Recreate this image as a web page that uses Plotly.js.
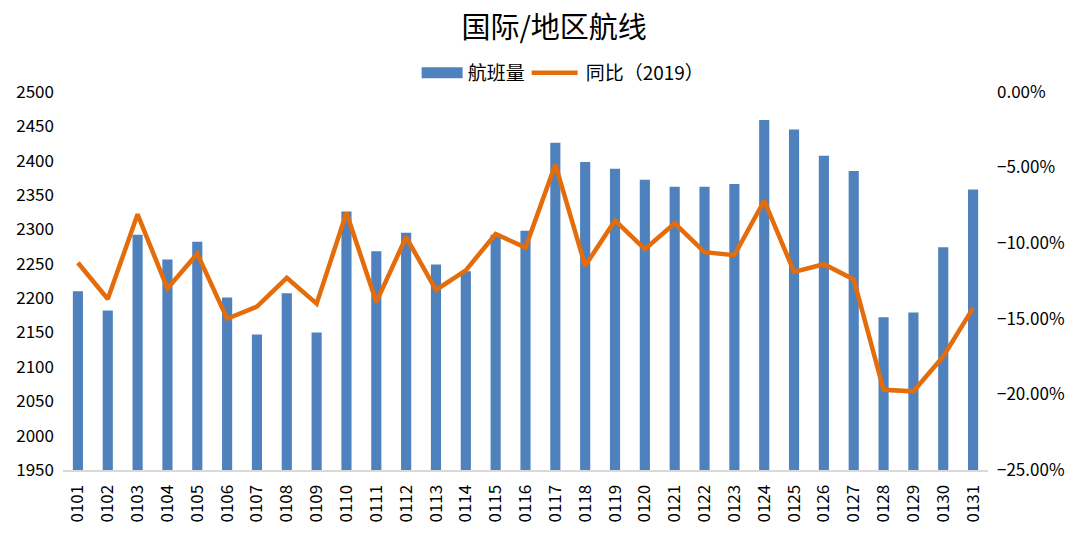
<!DOCTYPE html>
<html>
<head>
<meta charset="utf-8">
<script src="https://cdn.plot.ly/plotly-3.0.1.min.js"></script>
<style>html,body{margin:0;padding:0;background:#fff;}#chart{width:1074px;height:560px;}</style>
</head>
<body>
<div id="chart"></div>
<script>
const categories = ["0101","0102","0103","0104","0105","0106","0107","0108","0109","0110",
  "0111","0112","0113","0114","0115","0116","0117","0118","0119","0120",
  "0121","0122","0123","0124","0125","0126","0127","0128","0129","0130","0131"];
const flights = [2210,2182,2292,2256,2282,2201,2147,2207,2150,2326,
  2268,2295,2249,2239,2292,2298,2426,2398,2388,2372,
  2362,2362,2366,2459,2445,2407,2385,2172,2179,2274,2358];
const yoy2019 = [-0.113,-0.137,-0.081,-0.130,-0.107,-0.150,-0.142,-0.123,-0.140,-0.080,
  -0.139,-0.096,-0.131,-0.118,-0.094,-0.103,-0.048,-0.115,-0.085,-0.104,
  -0.087,-0.106,-0.108,-0.072,-0.119,-0.114,-0.124,-0.197,-0.198,-0.175,-0.143];

const FONT = "'Microsoft YaHei', 'Noto Sans CJK SC', 'Noto Sans', sans-serif";

const traces = [
  {type:'bar', name:'航班量', x:categories, y:flights, marker:{color:'#4F81BD'}, yaxis:'y'},
  {type:'scatter', mode:'lines', name:'同比（2019）', x:categories, y:yoy2019, yaxis:'y2',
   line:{color:'#E46C0A', width:4.5}}
];

const layout = {
  width:1074, height:560,
  margin:{l:63, r:86, t:91, b:90},
  paper_bgcolor:'#fff', plot_bgcolor:'#fff',
  font:{family:FONT, color:'#000', size:17},
  title:{text:'国际/地区航线', font:{family:FONT, size:29, color:'#000'}, xref:'container', x:0.516, xanchor:'center', yref:'container', y:0.95, yanchor:'middle'},
  showlegend:true,
  legend:{orientation:'h', xref:'container', yref:'container', x:0.522, xanchor:'center', y:0.87, yanchor:'middle', font:{size:19}, traceorder:'normal', itemwidth:46},
  bargap:0.66,
  xaxis:{type:'category', tickangle:-90, showline:true, linecolor:'#D9D9D9', linewidth:2, showgrid:false, ticks:'', ticklabelstandoff:6, tickfont:{size:17}, automargin:false},
  yaxis:{range:[1950,2500], dtick:50, showgrid:false, zeroline:false, showline:false, ticks:'', ticklabelstandoff:8, tickfont:{size:17}, automargin:false},
  yaxis2:{range:[-0.25,0], dtick:0.05, tickformat:'.2%', overlaying:'y', side:'right', showgrid:false, zeroline:false, showline:false, ticks:'', ticklabelstandoff:8, tickfont:{size:17}, automargin:false}
};

Plotly.newPlot('chart', traces, layout, {displayModeBar:false, staticPlot:true}).then(function(gd){
  // widen the legend symbols to match the reference's wide swatches
  const items = gd.querySelectorAll('.legend .traces');
  items.forEach(function(item){
    item.querySelectorAll('.legendpoints path').forEach(function(p){ p.setAttribute('d', 'M-18,5.5H23V-5.5H-18Z'); });
    item.querySelectorAll('.legendlines path').forEach(function(p){ p.setAttribute('d', 'M2,0h46'); });
  });
});
</script>
</body>
</html>
